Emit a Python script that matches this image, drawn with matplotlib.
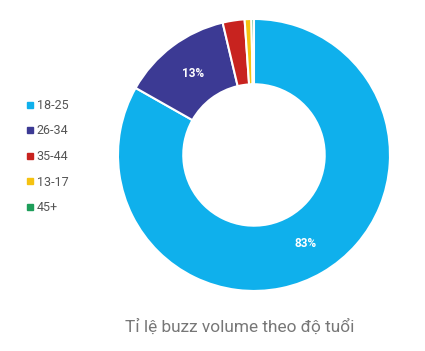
import matplotlib.pyplot as plt
from matplotlib.lines import Line2D

labels = ['18-25', '26-34', '35-44', '13-17', '45+']
values = [83.2, 13.1, 2.6, 0.8, 0.3]
colors = ['#0FB0EC', '#3C3A94', '#C8231F', '#F5C211', '#1E9E5A']
title = 'Tỉ lệ buzz volume theo độ tuổi'

plt.rcParams['font.family'] = ['Roboto', 'DejaVu Sans']

fig = plt.figure(figsize=(4.25, 3.51), dpi=100)
ax = fig.add_axes([0.2776, 0.171, 0.64, 0.775])

wedges, texts, autotexts = ax.pie(
    values, colors=colors, startangle=90, counterclock=False,
    radius=1.0, pctdistance=0.75,
    autopct=lambda p: f'{p:.0f}%' if p > 5 else '',
    wedgeprops=dict(width=0.48, edgecolor='white', linewidth=1.5))
for t in autotexts:
    t.set_color('white')
    t.set_fontsize(8.5)
    t.set_fontweight('bold')
ax.set_aspect('equal')
ax.set_xlim(-1, 1)
ax.set_ylim(-1, 1)
ax.axis('off')

handles = [Line2D([], [], marker='s', linestyle='none', markersize=4.5,
                  markerfacecolor=c, markeredgecolor=c) for c in colors]
fig.legend(handles, labels, loc='upper left', bbox_to_anchor=(0.03, 0.75),
           frameon=False, fontsize=9, labelcolor='#555555',
           handletextpad=0.0, handlelength=1.0, labelspacing=1.0)

fig.text(0.565, 0.07, title, ha='center', va='center', fontsize=12.4,
         color='#777777')

fig.savefig('out.png', dpi=100, facecolor='white')
